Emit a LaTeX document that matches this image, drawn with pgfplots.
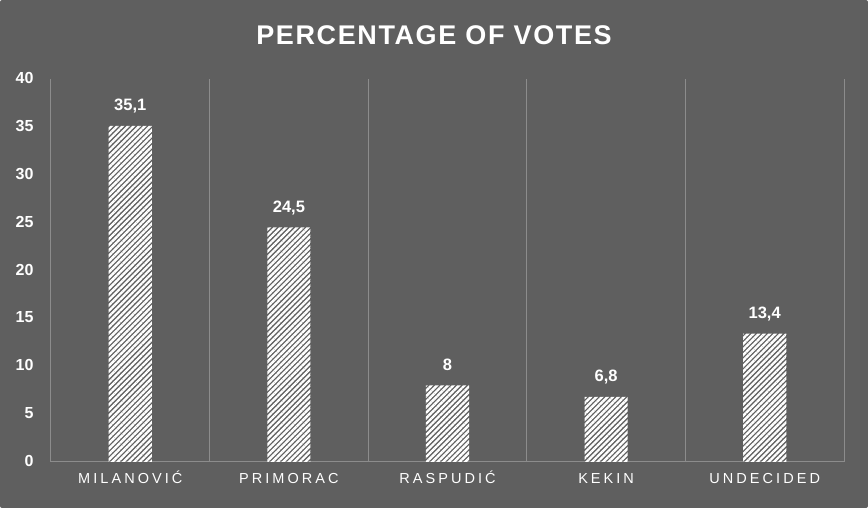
\documentclass[border=0pt]{standalone}
\usepackage{pgfplots}
\pgfplotsset{compat=1.18}
\usepackage{fontspec}
\setmainfont{Liberation Sans}
\newfontfamily\spaced[LetterSpace=21]{Liberation Sans}
\newfontfamily\titlefont[LetterSpace=6]{Liberation Sans}
\usetikzlibrary{patterns.meta}
\definecolor{bg}{HTML}{5F5F5F}
\definecolor{gridc}{HTML}{8C8C8C}
\begin{document}
\begin{tikzpicture}
\fill[bg, rounded corners=2pt] (0,0) rectangle (868pt,508pt);
\node[text=white, font=\titlefont\bfseries\fontsize{27}{30}\selectfont] at (434pt,473pt) {PERCENTAGE OF VOTES};
\begin{axis}[
    at={(51pt,46pt)}, anchor=south west,
    scale only axis,
    width=793pt, height=383pt,
    xmin=-0.5, xmax=4.5,
    ymin=0, ymax=40,
    ytick={0,5,...,40},
    xtick={0,1,2,3,4},
    xticklabels={MILANOVIĆ, PRIMORAC, RASPUDIĆ, KEKIN, UNDECIDED},
    minor xtick={-0.5,0.5,...,4.5},
    xminorgrids=true,
    minor grid style={draw=gridc, line width=1pt},
    major tick length=0pt, minor tick length=0pt,
    axis lines*=left,
    axis line style={draw=gridc, line width=1pt, -},
    xticklabel style={text=white, font=\spaced\fontsize{14.5}{16}\selectfont, anchor=base, yshift=-22pt},
    yticklabel style={text=white, font=\bfseries\fontsize{16}{18}\selectfont, anchor=east, xshift=-14pt, yshift=1pt},
    /pgf/number format/assume math mode=true,
    /pgf/number format/use comma,
    nodes near coords,
    every node near coord/.append style={text=white, font=\bfseries\fontsize{16.5}{18}\selectfont, anchor=base, yshift=15pt},
    ybar, bar width=0.272,
]
\addplot[draw=none, pattern={Lines[angle=45, distance=3.9pt, line width=2.4pt]}, pattern color=white]
coordinates {
    (0, 35.1)
    (1, 24.5)
    (2, 8)
    (3, 6.8)
    (4, 13.4)
};
\end{axis}
\end{tikzpicture}
\end{document}
